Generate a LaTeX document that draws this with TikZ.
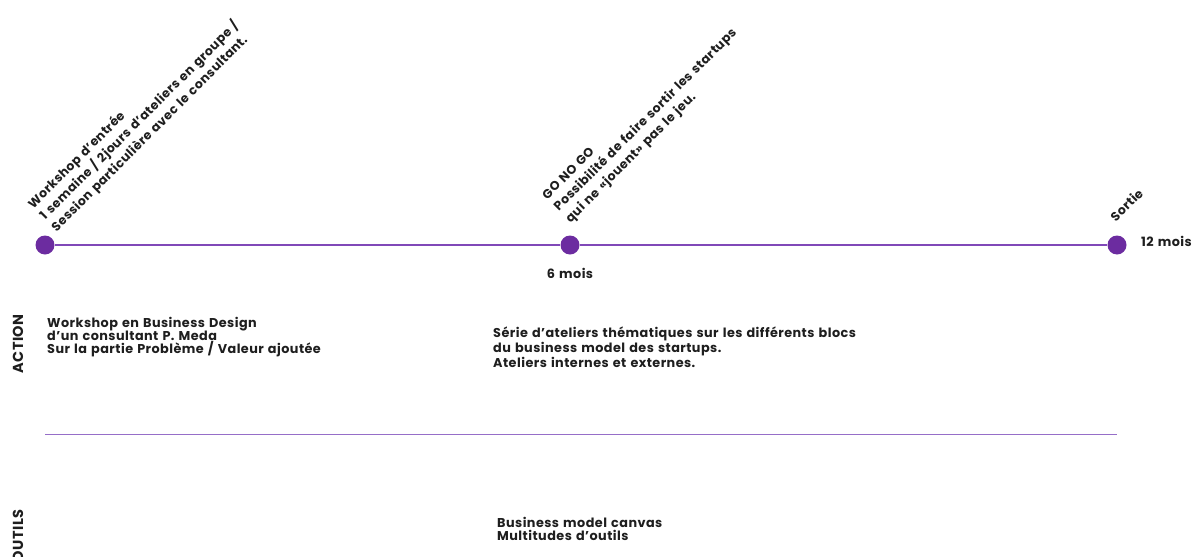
\documentclass[tikz,border=0pt]{standalone}
\usepackage{fontspec}
\setmainfont{Poppins}
\newfontfamily\wide{Poppins}[LetterSpace=3.5, WordSpace=1.3]
\definecolor{dotpurple}{RGB}{108,44,160}
\definecolor{linepurple}{RGB}{128,72,184}
\definecolor{seppurple}{RGB}{150,110,200}
\definecolor{txt}{RGB}{30,30,30}
\tikzset{
  dot/.style={circle, fill=dotpurple, minimum size=19pt, inner sep=0pt},
  lbl/.style={font=\wide\fontsize{12.8}{13}\selectfont\bfseries, text=txt, inner sep=0pt, align=left},
  rlbl/.style={font=\wide\fontsize{12.5}{16.5}\selectfont\bfseries, text=txt, inner sep=0pt, align=left, anchor=south west, rotate=45},
  side/.style={font=\wide\fontsize{14.5}{15}\selectfont\bfseries, text=txt, inner sep=0pt, rotate=90}
}
\begin{document}
\begin{tikzpicture}[x=1pt,y=-1pt]
\useasboundingbox (0,0) rectangle (1200,557);
% timeline dots
\node[dot] (d0) at (45,245) {};
\node[dot] (d6) at (570,245) {};
\node[dot] (d12) at (1117,245) {};
\draw[linepurple, line width=1.3pt] (d0) -- (d6) -- (d12);
% rotated labels
\node[rlbl] (t0) at (59,235) {Workshop d’entrée\\1 semaine / 2jours d’ateliers en groupe /\\Session particulière avec le consultant.};
\node[rlbl] (t6) at (573,226) {GO NO GO\\Possibilité de faire sortir les startups\\qui ne «jouent» pas le jeu.};
\node[rlbl] (t12) at (1116,223) {Sortie};
% month labels
\node[lbl, anchor=base] (m6) at (570,278) {6 mois};
\node[lbl, anchor=base west] (m12) at (1141,246) {12 mois};
% side labels
\node[side] (action) at (18,344) {ACTION};
\node[side] (outils) at (18,536) {OUTILS};
% action texts
\node[lbl, anchor=north west] (a1) at (47,317.5) {Workshop en Business Design\\d’un consultant P. Meda\\Sur la partie Problème / Valeur ajoutée};
\node[lbl, anchor=north west] (a2) at (493,327) {Série d’ateliers thématiques sur les différents blocs\\du business model des startups.\\Ateliers internes et externes.};
% separator
\coordinate (s0) at (45,434);
\coordinate (s1) at (1117,434);
\draw[seppurple, line width=1pt] (s0) -- (s1);
% outils text
\node[lbl, anchor=north west] (o1) at (497,517.5) {Business model canvas\\Multitudes d’outils};
\end{tikzpicture}
\end{document}
